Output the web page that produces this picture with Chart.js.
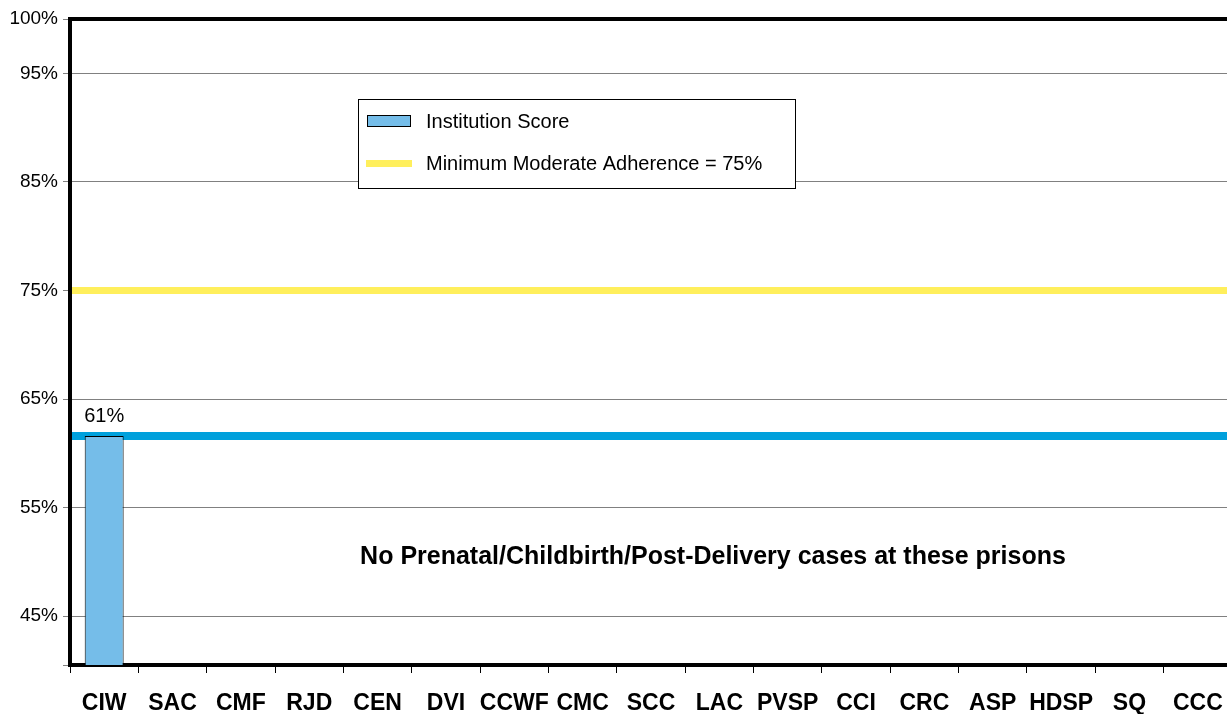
<!DOCTYPE html>
<html>
<head>
    <title>Prenatal/Childbirth/Post-Delivery - Institution Scores</title>
    <script src="https://cdn.jsdelivr.net/npm/chart.js"></script>
    <style>
        html, body { margin: 0; padding: 0; background: #fff; overflow: hidden; }
        .chart-box { position: relative; width: 1232px; height: 714px; }
    </style>
</head>
<body>
    <div class="chart-box"><canvas id="scoreChart"></canvas></div>

    <script type="text/javascript">
        // data
        var institutions = ['CIW', 'SAC', 'CMF', 'RJD', 'CEN', 'DVI', 'CCWF', 'CMC', 'SCC', 'LAC', 'PVSP', 'CCI', 'CRC', 'ASP', 'HDSP', 'SQ', 'CCC'];
        var institutionScores = [61.6, null, null, null, null, null, null, null, null, null, null, null, null, null, null, null, null];
        var scoreLabels = ['61%', '', '', '', '', '', '', '', '', '', '', '', '', '', '', '', ''];
        var averageScore = 61.6;
        var minimumAdherence = 75;
        var yTickValues = [40.5, 45, 55, 65, 75, 85, 95, 100];
        var yMin = 40.5;
        var yMax = 100;
        var noteText = 'No Prenatal/Childbirth/Post-Delivery cases at these prisons';
        var legendLabels = ['Institution Score', 'Minimum Moderate Adherence = 75%'];

        var barFill = '#75BDE9';
        var avgColor = '#00A0DC';
        var minColor = '#FFEF5C';
        var fontFamily = '"Liberation Sans", Arial, sans-serif';

        // reference lines go under the bars
        var refLines = {
            id: 'refLines',
            beforeDatasetsDraw: function(chart) {
                var ctx = chart.ctx;
                var area = chart.chartArea;
                var y = chart.scales.y;
                ctx.save();
                ctx.lineCap = 'butt';
                [[minimumAdherence, minColor, 7], [averageScore, avgColor, 8]].forEach(function(l) {
                    var py = y.getPixelForValue(l[0]);
                    ctx.strokeStyle = l[1];
                    ctx.lineWidth = l[2];
                    ctx.beginPath();
                    ctx.moveTo(area.left + 2, py);
                    ctx.lineTo(area.right, py);
                    ctx.stroke();
                });
                ctx.restore();
            }
        };

        // frame, bar value labels, note and legend
        var extras = {
            id: 'extras',
            afterDatasetsDraw: function(chart) {
                var ctx = chart.ctx;
                var area = chart.chartArea;
                ctx.save();

                // heavy top border
                ctx.fillStyle = '#000';
                ctx.fillRect(area.left - 2, area.top - 2, area.right - area.left + 2, 4);

                // value labels above bars
                var meta = chart.getDatasetMeta(0);
                ctx.font = '20px ' + fontFamily;
                ctx.textAlign = 'center';
                ctx.textBaseline = 'alphabetic';
                meta.data.forEach(function(bar, i) {
                    if (institutionScores[i] == null) return;
                    ctx.fillText(scoreLabels[i], bar.x, bar.y - 14);
                });

                // note text
                ctx.font = 'bold 25px ' + fontFamily;
                ctx.textBaseline = 'middle';
                ctx.fillText(noteText, 713, 557);

                // legend box
                ctx.fillStyle = '#fff';
                ctx.fillRect(358.5, 99.5, 437, 89);
                ctx.strokeStyle = '#000';
                ctx.lineWidth = 1;
                ctx.strokeRect(358.5, 99.5, 437, 89);

                ctx.fillStyle = barFill;
                ctx.fillRect(367.5, 115.5, 43, 11);
                ctx.strokeRect(367.5, 115.5, 43, 11);

                ctx.fillStyle = minColor;
                ctx.fillRect(366, 160, 46, 7);

                ctx.fillStyle = '#000';
                ctx.font = '20px ' + fontFamily;
                ctx.textAlign = 'left';
                ctx.fillText(legendLabels[0], 426, 122);
                ctx.fillText(legendLabels[1], 426, 164);

                ctx.restore();
            }
        };

        var ctx = document.getElementById('scoreChart').getContext('2d');
        var scoreChart = new Chart(ctx, {
            type: 'bar',
            data: {
                labels: institutions,
                datasets: [{
                    label: legendLabels[0],
                    data: institutionScores,
                    backgroundColor: barFill,
                    borderColor: '#000',
                    borderWidth: 1,
                    borderSkipped: 'bottom',
                    barPercentage: 0.57,
                    categoryPercentage: 1
                }]
            },
            options: {
                responsive: true,
                maintainAspectRatio: false,
                animation: false,
                layout: { padding: { top: 19, right: 0, left: 0, bottom: 0 } },
                plugins: {
                    legend: { display: false },
                    tooltip: { enabled: false }
                },
                scales: {
                    x: {
                        offset: true,
                        grid: {
                            offset: true,
                            drawOnChartArea: false,
                            tickLength: 8,
                            tickColor: '#000',
                            tickWidth: 1
                        },
                        border: { display: true, color: '#000', width: 4 },
                        ticks: {
                            color: '#000',
                            font: { family: fontFamily, size: 23, weight: 'bold' },
                            padding: 17,
                            maxRotation: 0,
                            autoSkip: false
                        },
                        afterFit: function(scale) {
                            scale.height = 49;
                            scale.paddingLeft = 0;
                            scale.paddingRight = 0;
                        }
                    },
                    y: {
                        min: yMin,
                        max: yMax,
                        afterBuildTicks: function(scale) {
                            scale.ticks = yTickValues.map(function(v) { return { value: v }; });
                        },
                        grid: {
                            color: '#808080',
                            lineWidth: 1,
                            tickLength: 7,
                            tickColor: '#808080'
                        },
                        border: { display: true, color: '#000', width: 4 },
                        ticks: {
                            color: '#000',
                            font: { family: fontFamily, size: 19 },
                            padding: 5,
                            callback: function(value) {
                                return value === yMin ? '' : value + '%';
                            }
                        },
                        afterFit: function(scale) { scale.width = 70; }
                    }
                }
            },
            plugins: [refLines, extras]
        });
    </script>
</body>
</html>
